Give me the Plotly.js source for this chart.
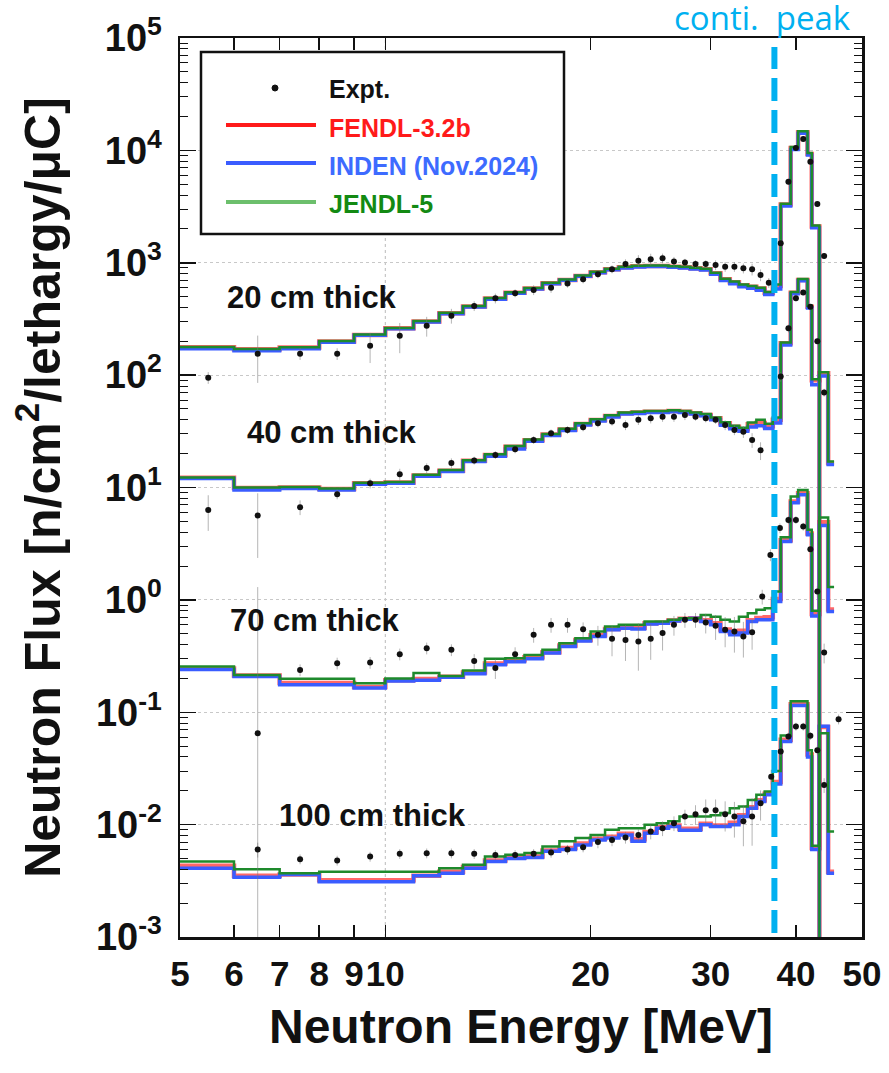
<!DOCTYPE html>
<html><head><meta charset="utf-8">
<script src="https://cdn.plot.ly/plotly-3.0.1.min.js"></script>
<style>html,body{margin:0;padding:0;background:#fff}#chart{width:889px;height:1073px}</style>
</head><body><div id="chart"></div>
<script>
// ---------- data ----------
const binEdges = [5,6,7,8,9,10,11,12,13,14,15,16,17,18,19,20,21,22,23,24,25,26,27,28,29,30,31,32,33,34,35,36,37,38,39.3,40.3,41.6,42.2,43.3,44.6,45.5];

const fendl20 = [177,170,176,199,228,261,300,356,408,480, 540,590,657,704,764,824,876,912,931,937, 937,923,912,893,876,807,713,670,630,610, 590,540,620, 3300,10500,14500,9300,2100,1e-6,1e-6];
const inden20 = [172,165,172,196,226,258,297,352,403,474, 535,585,650,698,757,815,866,900,918,925, 925,912,900,880,860,790,695,650,612,592, 570,522,585, 3200,10200,14200,9100,2050,1e-6,1e-6];
const jendl20 = [178,171,177,201,230,263,303,359,412,485, 545,596,663,711,772,832,884,920,940,946, 946,932,920,902,885,815,722,680,640,620, 600,550,640, 3350,10700,14800,9500,2150,1e-6,1e-6];

const fendl40 = [12.2,9.9,10.0,9.7,10.9,11.1,12.8,14.1,17.3,19.5, 23.0,26.3,29.6,32.8,36.8,39.9,43.3,45.8,46.4,47.3, 47.3,48.0,47.3,45.8,44.2,41.3,37.3,34.8,33.0,36.5, 37.5,35.0,40.0, 192,542,704,406,90,104,16.5];
const inden40 = [12.0,9.5,9.8,9.5,10.7,10.9,12.6,13.9,17.0,19.0, 22.0,25.8,29.0,32.2,36.0,39.0,42.5,45.0,45.6,46.5, 46.5,47.3,46.6,45.0,43.4,40.0,35.8,33.3,31.6,34.5, 35.5,33.5,37.5, 185,530,690,395,82,98,16.0];
const jendl40 = [12.3,10.0,10.1,9.8,11.0,11.2,13.0,14.3,17.5,19.8, 23.4,26.7,30.0,33.3,37.3,40.5,44.0,46.5,47.2,48.0, 48.0,48.7,48.0,46.5,45.0,42.0,38.0,35.5,34.0,37.8, 40.0,37.0,42.0, 195,550,715,415,92,106,17.0];

const fendl70 = [0.245,0.212,0.182,0.182,0.168,0.193,0.198,0.207,0.226,0.272, 0.29,0.308,0.342,0.392,0.44,0.485,0.55,0.57,0.565,0.62, 0.625,0.655,0.68,0.687,0.66,0.62,0.545,0.51,0.53,0.66, 0.69,0.70,1.02, 3.4,7.5,8.9,3.9,0.75,4.9,0.82];
const inden70 = [0.240,0.208,0.176,0.176,0.164,0.19,0.193,0.205,0.22,0.264, 0.282,0.30,0.336,0.384,0.43,0.472,0.541,0.56,0.55,0.611, 0.62,0.65,0.673,0.687,0.641,0.60,0.522,0.489,0.506,0.641, 0.664,0.664,0.966, 3.3,7.3,8.6,3.8,0.72,4.6,0.79];
const jendl70 = [0.255,0.215,0.199,0.199,0.181,0.20,0.223,0.21,0.235,0.30, 0.303,0.324,0.359,0.412,0.456,0.522,0.579,0.60,0.60,0.641, 0.641,0.664,0.687,0.687,0.734,0.709,0.664,0.641,0.709,0.762, 0.815,0.843,1.19, 3.6,8.3,9.5,4.2,0.80,5.4,1.30];

const fendl100 = [0.0043,0.0035,0.0036,0.0032,0.0032,0.0032,0.0035,0.0038,0.0042,0.0048, 0.0051,0.0052,0.0059,0.0062,0.0068,0.0075,0.0078,0.0083,0.0074,0.0086, 0.0095,0.0098,0.0092,0.0092,0.0102,0.0098,0.0098,0.0104,0.0121,0.0143, 0.0165,0.0188,0.024, 0.057,0.118,0.118,0.042,0.0062,0.074,0.0038];
const inden100 = [0.0041,0.0034,0.0036,0.0031,0.0031,0.0031,0.0035,0.0037,0.0041,0.0047, 0.0050,0.0051,0.0058,0.0060,0.0066,0.0073,0.0076,0.0081,0.0071,0.0084, 0.0093,0.0096,0.0089,0.0089,0.0100,0.0096,0.0096,0.0100,0.0118,0.0140, 0.0161,0.0184,0.023, 0.055,0.115,0.115,0.040,0.0060,0.075,0.0037];
const jendl100 = [0.0047,0.0040,0.0037,0.0038,0.0038,0.0038,0.0038,0.0041,0.0044,0.0052, 0.0054,0.0056,0.0064,0.0071,0.0076,0.0081,0.0090,0.0093,0.0093,0.0100, 0.0103,0.0107,0.0118,0.0118,0.0118,0.0121,0.0127,0.0140,0.0145,0.0166, 0.0184,0.0197,0.030, 0.062,0.125,0.125,0.046,0.0065,0.065,0.0087];

const exp20E = [5.5,6.5,7.5,8.5,9.5,10.5,11.5,12.5,13.5,14.5,15.5,16.5,17.5,18.5,19.5,20.5,21.5,22.5,23.5,24.5,25.5,26.5,27.5,28.5,29.5,30.5,31.5,32.5,33.5,34.5,35.5,36.5,38,39,40,41,42,43,44];
const exp20Y = [95,155,155,155,183,224,275,338,413,483, 536,573,600,652,713,791,876,975,1044,1074, 1096,1024,1003,975,975,955,923,923,893,876, 779,665, 1490,5270,10500,12600,7930,3330,1150];
const exp20Err = [0.12,0.45,0.12,0.12,0.3,0.3,0.2,0.15,0.1,0.1, 0.08,0.1,0.1,0.08,0.08,0.08,0.08,0.1,0.12,0.12, 0.1,0.1,0.08,0.08,0.08,0.1,0.1,0.1,0.1,0.12, 0.12,0.1, 0.08,0.06,0.05,0.05,0.05,0.05,0.06];

const exp40E = [5.5,6.5,7.5,8.5,9.5,10.5,11.5,12.5,13.5,14.5,15.5,16.5,17.5,18.5,19.5,20.5,21.5,22.5,23.5,24.5,25.5,26.5,27.5,28.5,29.5,30.5,31.5,32.5,33.5,34.5,35.5,38,39,40,41,42,43,44];
const exp40Y = [6.32,5.62,6.68,8.72,10.9,13.1,14.9,16.5,17.4,19.5, 21.9,26.5,30.4,32.5,34.4,37.3,38.6,36.0,40.0,41.3, 42.7,42.7,44.2,42.7,41.3,40.0,36.0,32.5,31.4,26.5, 21.4, 97,261,484,543,406,200,70];
const exp40Err = [0.35,0.58,0.15,0.1,0.1,0.12,0.1,0.1,0.08,0.08, 0.08,0.08,0.08,0.08,0.08,0.08,0.08,0.1,0.1,0.1, 0.1,0.1,0.1,0.08,0.08,0.08,0.1,0.1,0.12,0.15, 0.18, 0.1,0.08,0.06,0.05,0.05,0.06,0.08];

const exp70E = [6.5,7.5,8.5,9.5,10.5,11.5,12.5,13.5,14.5,15.5,16.5,17.5,18.5,19.5,20.5,21.5,22.5,23.5,24.5,25.5,26.5,27.5,28.5,29.5,30.5,31.5,32.5,33.5,34.5,35.7,36.7,37.9,39,40,41,42,43,44];
const exp70Y = [0.065,0.238,0.273,0.277,0.329,0.372,0.359,0.286,0.247,0.329, 0.489,0.60,0.60,0.548,0.489,0.45,0.44,0.426,0.45,0.506, 0.60,0.664,0.664,0.628,0.587,0.541,0.522,0.472,0.514, 1.07,2.51,4.35,5.15,5.15,4.49,2.82,1.19,0.34];
const exp70Err = [19,0.12,0.12,0.12,0.12,0.12,0.12,0.15,0.2,0.15, 0.15,0.15,0.15,0.15,0.2,0.3,0.35,0.45,0.35,0.3, 0.2,0.15,0.15,0.2,0.25,0.3,0.35,0.35,0.3, 0.15,0.12,0.1,0.08,0.08,0.08,0.1,0.12,0.2];

const exp100E = [6.5,7.5,8.5,9.5,10.5,11.5,12.5,13.5,14.5,15.5,16.5,17.5,18.5,19.5,20.5,21.5,22.5,23.5,24.5,25.5,26.5,27.5,28.5,29.5,30.5,31.5,32.5,33.5,34.5,35.5,36.8,38,39,40,41,42,43,44,46.2];
const exp100Y = [0.0060,0.00493,0.0048,0.0052,0.0055,0.00557,0.00557,0.0055,0.00538,0.00538, 0.0055,0.00565,0.0060,0.0063,0.0070,0.0073,0.0077,0.0081,0.0087,0.0093, 0.0103,0.0118,0.0124,0.0134,0.0134,0.0124,0.0118,0.0107,0.0118,0.0155, 0.0267,0.0447,0.0608,0.0746,0.0746,0.0617,0.046,0.0225,0.0867];
const exp100Err = [0.15,0.1,0.1,0.1,0.1,0.1,0.1,0.1,0.1,0.1, 0.1,0.1,0.1,0.1,0.12,0.12,0.12,0.12,0.15,0.15, 0.15,0.15,0.2,0.25,0.25,0.3,0.35,0.4,0.45,0.3, 0.15,0.1,0.08,0.08,0.08,0.08,0.1,0.15,0.1];

const xTickVals = [5,6,7,8,9,10,20,30,40,50];
const xTickText = ['5','6','7','8','9','10','20','30','40','50'];
const yTickVals = [1e-3,1e-2,1e-1,1e0,1e1,1e2,1e3,1e4,1e5];
const yTickText = ['10<sup>-3</sup>','10<sup>-2</sup>','10<sup>-1</sup>','10<sup>0</sup>','10<sup>1</sup>','10<sup>2</sup>','10<sup>3</sup>','10<sup>4</sup>','10<sup>5</sup>'];
const thickLabels = ['20 cm thick','40 cm thick','70 cm thick','100 cm thick'];
const libNames = ['FENDL-3.2b','INDEN (Nov.2024)','JENDL-5'];
const contiPeakE = 37.2;

// ---------- build ----------
const FONT = 'Liberation Sans, Arial, Helvetica, sans-serif';
const libStyle = [
  {color:'rgba(255,40,40,0.7)', width:4.5},
  {color:'#3a5cff', width:3.5},
  {color:'#1e8a2c', width:2.5}
];
const sims = [[fendl20,inden20,jendl20],[fendl40,inden40,jendl40],[fendl70,inden70,jendl70],[fendl100,inden100,jendl100]];
const exps = [[exp20E,exp20Y,exp20Err],[exp40E,exp40Y,exp40Err],[exp70E,exp70Y,exp70Err],[exp100E,exp100Y,exp100Err]];

const traces = [];
for (let L = 0; L < 3; L++) {
  for (let s = 0; s < 4; s++) {
    const v = sims[s][L];
    traces.push({
      type:'scatter', mode:'lines', x: binEdges, y: v.concat([v[v.length-1]]),
      line:{shape:'hv', color:libStyle[L].color, width:libStyle[L].width},
      name: libNames[L] + ' ' + thickLabels[s], showlegend:false, hoverinfo:'skip'
    });
  }
}
for (let s = 0; s < 4; s++) {
  const [E, Y, R] = exps[s];
  traces.push({
    type:'scatter', mode:'markers', x:E, y:Y,
    marker:{color:'#111', size:6},
    error_y:{type:'data', symmetric:false,
      array: Y.map((y,i)=>y*R[i]),
      arrayminus: Y.map((y,i)=>y*Math.min(R[i],0.99)),
      color:'rgba(120,120,120,0.55)', thickness:1, width:0},
    name:'Expt. ' + thickLabels[s], showlegend:false
  });
}

// pixel helpers for paper coords (plot area 180..862 x 38..937)
const PX = x => (x-180)/682;
const PY = y => (937-y)/899;

const shapes = [
  {type:'line', xref:'x', yref:'paper', x0:10, x1:10, y0:0, y1:1, line:{color:'#bbb', width:1, dash:'dot'}, layer:'below'},
  {type:'line', xref:'x', yref:'paper', x0:contiPeakE, x1:contiPeakE, y0:PY(933), y1:PY(47), line:{color:'#00B0F0', width:6, dash:'23px,9px'}},
  // legend
  {type:'rect', xref:'paper', yref:'paper', x0:PX(201), x1:PX(564), y0:PY(234), y1:PY(52), line:{color:'#111', width:2.5}, fillcolor:'#fff'},
  {type:'circle', xref:'paper', yref:'paper', x0:PX(272), x1:PX(278), y0:PY(91), y1:PY(85), line:{color:'#111', width:1}, fillcolor:'#111'},
  {type:'line', xref:'paper', yref:'paper', x0:PX(226), x1:PX(316), y0:PY(125), y1:PY(125), line:{color:'#ff1a1a', width:4}},
  {type:'line', xref:'paper', yref:'paper', x0:PX(226), x1:PX(316), y0:PY(163), y1:PY(163), line:{color:'#3a5cff', width:4}},
  {type:'line', xref:'paper', yref:'paper', x0:PX(226), x1:PX(316), y0:PY(202), y1:PY(202), line:{color:'#6cbf6c', width:4}}
];

const legFont = (c) => ({family:FONT, size:25, color:c, weight:'bold'});
const labFont = {family:FONT, size:31, color:'#111', weight:'bold'};
const annotations = [
  {xref:'paper', yref:'paper', x:PX(327), y:PY(89), xanchor:'left', yanchor:'middle', text:'Expt.', showarrow:false, font:legFont('#111')},
  {xref:'paper', yref:'paper', x:PX(327), y:PY(128), xanchor:'left', yanchor:'middle', text:libNames[0], showarrow:false, font:legFont('#ff1a1a')},
  {xref:'paper', yref:'paper', x:PX(327), y:PY(166), xanchor:'left', yanchor:'middle', text:libNames[1], showarrow:false, font:legFont('#3d6bff')},
  {xref:'paper', yref:'paper', x:PX(327), y:PY(204), xanchor:'left', yanchor:'middle', text:libNames[2], showarrow:false, font:legFont('#138a13')},
  {xref:'paper', yref:'paper', x:PX(312), y:PY(297), xanchor:'center', yanchor:'middle', text:thickLabels[0], showarrow:false, font:labFont},
  {xref:'paper', yref:'paper', x:PX(332), y:PY(432), xanchor:'center', yanchor:'middle', text:thickLabels[1], showarrow:false, font:labFont},
  {xref:'paper', yref:'paper', x:PX(315), y:PY(620), xanchor:'center', yanchor:'middle', text:thickLabels[2], showarrow:false, font:labFont},
  {xref:'paper', yref:'paper', x:PX(372), y:PY(815), xanchor:'center', yanchor:'middle', text:thickLabels[3], showarrow:false, font:labFont},
  {xref:'paper', yref:'paper', x:PX(672), y:PY(18), xanchor:'left', yanchor:'middle', text:'conti.  peak', showarrow:false,
   font:{family:'Open Sans, Noto Sans, sans-serif', size:33, color:'#00B0F0'}}
];

const minorY = [];
for (let d = -3; d < 5; d++) for (let k = 2; k <= 9; k++) minorY.push(k*Math.pow(10,d));

const layout = {
  width:889, height:1073,
  margin:{l:180, r:27, t:38, b:136},
  paper_bgcolor:'#fff', plot_bgcolor:'#fff',
  showlegend:false,
  xaxis:{type:'log', range:[Math.log10(5), Math.log10(50)], tickmode:'array', tickvals:xTickVals, ticktext:xTickText,
    tickangle:0,
    ticks:'inside', ticklen:12, tickwidth:1.5, tickcolor:'#111', mirror:'allticks', showline:true, linecolor:'#111', linewidth:2.5,
    showgrid:false, zeroline:false, ticklabelstandoff:4,
    tickfont:{family:FONT, size:35, color:'#111', weight:'bold'},
    title:{text:'Neutron Energy [MeV]', font:{family:FONT, size:48, color:'#111', weight:'bold'}, standoff:18}},
  yaxis:{type:'log', range:[-3,5], tickmode:'array', tickvals:yTickVals, ticktext:yTickText,
    ticks:'inside', ticklen:16, tickwidth:1.5, tickcolor:'#111', mirror:'allticks', showline:true, linecolor:'#111', linewidth:2.5,
    showgrid:true, gridcolor:'#c8c8c8', griddash:'dot', gridwidth:1, zeroline:false, ticklabelstandoff:8,
    minor:{tickmode:'array', tickvals:minorY, ticks:'inside', ticklen:8, tickcolor:'#111', tickwidth:1, showgrid:false},
    tickfont:{family:FONT, size:38, color:'#111', weight:'bold'},
    title:{text:'Neutron Flux [n/cm<sup>2</sup>/lethargy/μC]', font:{family:FONT, size:50, color:'#111', weight:'bold'}, standoff:20}},
  shapes, annotations
};

Plotly.newPlot('chart', traces, layout, {staticPlot:true, displayModeBar:false});
</script>
</body></html>
